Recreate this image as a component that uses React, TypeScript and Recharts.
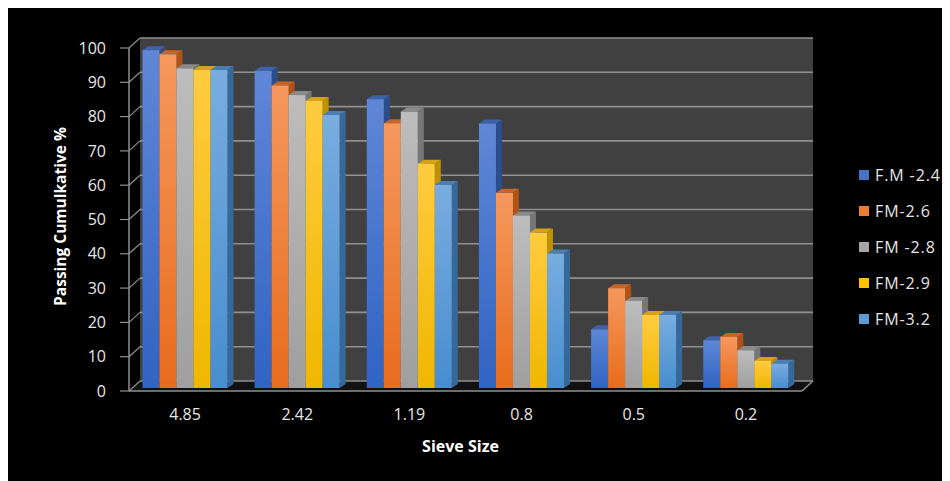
import React from 'react';
import { BarChart, Bar, XAxis, YAxis, CartesianGrid, Legend } from 'recharts';

const categories = ['4.85', '2.42', '1.19', '0.8', '0.5', '0.2'];
const seriesNames = ['F.M -2.4', 'FM-2.6', 'FM -2.8', 'FM-2.9', 'FM-3.2'];
const fm24 = [98.5, 92.5, 84.2, 77.1, 17.1, 13.9];
const fm26 = [97.3, 88.2, 77.2, 56.9, 29.1, 14.9];
const fm28 = [93.2, 85.4, 80.6, 50.3, 25.4, 11.0];
const fm29 = [92.7, 83.7, 65.4, 45.3, 21.3, 7.9];
const fm32 = [92.7, 79.6, 59.2, 39.2, 21.3, 7.1];
const yTicks = [0, 10, 20, 30, 40, 50, 60, 70, 80, 90, 100];

const seriesValues = [fm24, fm26, fm28, fm29, fm32];

const palettes = [
  { top: '#5f87d6', bottom: '#3163c2', side: '#2b4d8c', cap: '#3d62ac', legend: '#4472c4' },
  { top: '#f5985d', bottom: '#e96c1c', side: '#b05215', cap: '#c6642a', legend: '#ed7d31' },
  { top: '#bdbdbd', bottom: '#9f9f9f', side: '#777777', cap: '#8a8a8a', legend: '#a5a5a5' },
  { top: '#ffcc40', bottom: '#efb700', side: '#bf9000', cap: '#d6a316', legend: '#ffc000' },
  { top: '#79addf', bottom: '#488dcf', side: '#35699b', cap: '#4a7eb0', legend: '#5b9bd5' },
];

const data = categories.map((c, i) => {
  const row: any = { sieve: c };
  seriesValues.forEach((s, k) => { row['s' + k] = s[i]; });
  return row;
});

const FONT = "'Open Sans', 'DejaVu Sans', sans-serif";
const WALL_DX = 11;
const WALL_DY = 10;
const BAR_DX = 6;
const BAR_DY = 4;
const BAR_LIFT = 3;
const GRID = '#8f8f8f';

const makeShape = (k: number) => (props: any) => {
  const { x, y, width, height } = props;
  if (width == null || height == null) return null;
  const p = palettes[k];
  const yt = y - BAR_LIFT;
  const yb = y + height - BAR_LIFT;
  return (
    <g>
      <polygon
        points={`${x + width},${yt} ${x + width + BAR_DX},${yt - BAR_DY} ${x + width + BAR_DX},${yb - BAR_DY} ${x + width},${yb}`}
        fill={p.side}
      />
      <polygon
        points={`${x},${yt} ${x + BAR_DX},${yt - BAR_DY} ${x + width + BAR_DX},${yt - BAR_DY} ${x + width},${yt}`}
        fill={p.cap}
      />
      <rect x={x} y={yt} width={width} height={height} fill={`url(#grad${k})`} />
    </g>
  );
};

const gridLine = (props: any) => {
  const { x1, y1, x2, index, x, y, width, height } = props;
  return (
    <g key={`gl-${index}`}>
      {index === 0 && (
        <g>
          <polygon
            points={`${x},${y} ${x + WALL_DX},${y - WALL_DY} ${x + WALL_DX},${y + height - WALL_DY} ${x},${y + height}`}
            fill="#000"
          />
          <rect x={x + WALL_DX} y={y - WALL_DY} width={width} height={height} fill="#404040" />
          <polygon
            points={`${x},${y + height} ${x + WALL_DX},${y + height - WALL_DY} ${x + width + WALL_DX},${y + height - WALL_DY} ${x + width},${y + height}`}
            fill="#111111"
          />
          <line
            x1={x + width}
            y1={y + height}
            x2={x + width + WALL_DX}
            y2={y + height - WALL_DY}
            stroke={GRID}
            strokeWidth={1.5}
          />
        </g>
      )}
      <line x1={x1 + WALL_DX} y1={y1 - WALL_DY} x2={x2 + WALL_DX} y2={y1 - WALL_DY} stroke={GRID} strokeWidth={1.6} />
      <line x1={x1} y1={y1} x2={x1 + WALL_DX} y2={y1 - WALL_DY} stroke={GRID} strokeWidth={1.2} />
    </g>
  );
};

const renderLegend = () => (
  <div style={{ fontFamily: FONT, fontSize: 16, color: '#e6e6e6', letterSpacing: 0.9 }}>
    {seriesNames.map((n, i) => (
      <div key={n} style={{ display: 'flex', alignItems: 'center', height: 36, whiteSpace: 'nowrap' }}>
        <span
          style={{ display: 'inline-block', width: 10, height: 10, background: palettes[i].legend, marginRight: 6 }}
        />
        {n}
      </div>
    ))}
  </div>
);

export default function App() {
  return (
    <div style={{ width: 937, height: 473, background: '#000' }}>
      <BarChart
        width={937}
        height={473}
        data={data}
        margin={{ top: 40, right: 143, bottom: 0, left: 0 }}
        barCategoryGap="12%"
        barGap={0}
      >
        <defs>
          {palettes.map((p, k) => (
            <linearGradient key={k} id={`grad${k}`} x1="0" y1="0" x2="0" y2="1">
              <stop offset="0%" stopColor={p.top} />
              <stop offset="100%" stopColor={p.bottom} />
            </linearGradient>
          ))}
        </defs>
        <CartesianGrid vertical={false} horizontal={gridLine} />
        <XAxis
          dataKey="sieve"
          height={90}
          tickLine={false}
          tickSize={0}
          tickMargin={18}
          axisLine={{ stroke: GRID, strokeWidth: 1.5 }}
          tick={{ fill: '#e6e6e6', fontSize: 16, fontFamily: FONT }}
          label={{
            value: 'Sieve Size',
            position: 'insideBottom',
            offset: 29,
            dx: -5,
            fill: '#ffffff',
            fontSize: 16,
            fontWeight: 700,
            fontFamily: FONT,
          }}
        />
        <YAxis
          width={121}
          domain={[0, 100]}
          ticks={yTicks}
          interval={0}
          tickSize={9}
          tickMargin={14}
          tickLine={{ stroke: GRID, strokeWidth: 1.2 }}
          axisLine={{ stroke: GRID, strokeWidth: 1.5 }}
          tick={{ fill: '#e6e6e6', fontSize: 16, fontFamily: FONT }}
          label={{
            value: 'Passing Cumulkative %',
            angle: -90,
            position: 'center',
            dx: -8,
            dy: -3,
            fill: '#ffffff',
            fontSize: 15.5,
            fontWeight: 700,
            fontFamily: FONT,
          }}
        />
        {seriesNames.map((n, k) => (
          <Bar
            key={n}
            dataKey={'s' + k}
            name={n}
            fill={palettes[k].legend}
            shape={makeShape(k)}
            isAnimationActive={false}
          />
        ))}
        <Legend
          layout="vertical"
          align="center"
          verticalAlign="middle"
          content={renderLegend}
          wrapperStyle={{ left: 851, top: 149, width: 95 }}
        />
      </BarChart>
    </div>
  );
}
